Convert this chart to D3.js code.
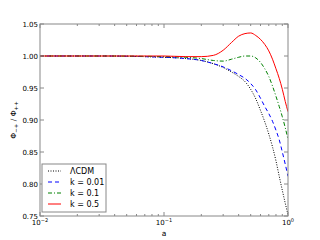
<!DOCTYPE html>
<html>
<head>
<meta charset="utf-8">
<script src="https://cdn.jsdelivr.net/npm/d3@7"></script>
<style>
  body { margin: 0; background: #fff; }
  text { font-family: "DejaVu Sans", sans-serif; }
</style>
</head>
<body>
<div id="chart"></div>
<script>
// scale factor a
var aValues = [0.01, 0.03, 0.1, 0.15, 0.2, 0.25, 0.3, 0.35, 0.4, 0.45, 0.5, 0.55, 0.6, 0.65, 0.7, 0.75, 0.8, 0.85, 0.9, 0.95, 1.0];
var lcdm = [1.0, 1.0, 0.998, 0.996, 0.993, 0.988, 0.982, 0.975, 0.968, 0.960, 0.948, 0.933, 0.915, 0.897, 0.878, 0.858, 0.836, 0.812, 0.790, 0.770, 0.752];
var k001 = [1.0, 1.0, 0.998, 0.996, 0.993, 0.988, 0.983, 0.977, 0.971, 0.965, 0.957, 0.947, 0.934, 0.921, 0.910, 0.898, 0.884, 0.869, 0.850, 0.831, 0.812];
var k01  = [1.0, 1.0, 0.999, 0.998, 0.996, 0.993, 0.992, 0.995, 0.998, 1.0, 1.0, 0.997, 0.990, 0.980, 0.968, 0.953, 0.937, 0.921, 0.905, 0.888, 0.870];
var k05  = [1.0, 1.0, 1.0, 0.999, 0.999, 1.001, 1.009, 1.021, 1.031, 1.035, 1.036, 1.032, 1.026, 1.018, 1.008, 0.995, 0.980, 0.965, 0.948, 0.929, 0.913];

var seriesNames = ["\u039bCDM", "k = 0.01", "k = 0.1", "k = 0.5"];
var seriesValues = [lcdm, k001, k01, k05];
var seriesColors = ["#000000", "#0000ff", "#008000", "#ff0000"];
var seriesDash = ["1,1.5", "4,3", "4,2,1,2", null];

var yTicks = [0.75, 0.80, 0.85, 0.90, 0.95, 1.00, 1.05];
var xTicks = [0.01, 0.1, 1];
var xTickExp = ["\u22122", "\u22121", "0"];

var W = 320, H = 240;
var margin = {top: 24, right: 32, bottom: 24, left: 40},
    width = W - margin.left - margin.right,
    height = H - margin.top - margin.bottom;

var svg = d3.select("#chart").append("svg")
    .attr("width", W)
    .attr("height", H);

var g = svg.append("g")
    .attr("transform", "translate(" + margin.left + "," + margin.top + ")");

var x = d3.scaleLog().domain([0.01, 1]).range([0, width]);
var y = d3.scaleLinear().domain([0.75, 1.05]).range([height, 0]);

// minor log ticks
var minor = [];
[0.01, 0.1].forEach(function(d) {
  for (var i = 2; i <= 9; i++) minor.push(d * i);
});

var axisColor = "#888";

// curves
var line = d3.line()
    .x(function(d) { return x(d[0]); })
    .y(function(d) { return y(d[1]); })
    .curve(d3.curveMonotoneX);

g.append("defs").append("clipPath").attr("id", "clip")
  .append("rect").attr("width", width).attr("height", height);

var curves = g.append("g").attr("clip-path", "url(#clip)");
seriesValues.forEach(function(vals, i) {
  curves.append("path")
    .datum(aValues.map(function(a, j) { return [a, vals[j]]; }))
    .attr("d", line)
    .attr("fill", "none")
    .attr("stroke", seriesColors[i])
    .attr("stroke-width", 1)
    .attr("stroke-dasharray", seriesDash[i]);
});

// frame
g.append("rect")
  .attr("width", width).attr("height", height)
  .attr("fill", "none").attr("stroke", axisColor).attr("stroke-width", 1);

// ticks (inward, all four sides)
var ticks = g.append("g").attr("stroke", axisColor).attr("stroke-width", 1);
xTicks.concat(minor).forEach(function(d) {
  var len = xTicks.indexOf(d) >= 0 ? 4 : 2;
  ticks.append("line").attr("x1", x(d)).attr("x2", x(d)).attr("y1", height).attr("y2", height - len);
  ticks.append("line").attr("x1", x(d)).attr("x2", x(d)).attr("y1", 0).attr("y2", len);
});
yTicks.forEach(function(d) {
  ticks.append("line").attr("x1", 0).attr("x2", 4).attr("y1", y(d)).attr("y2", y(d));
  ticks.append("line").attr("x1", width).attr("x2", width - 4).attr("y1", y(d)).attr("y2", y(d));
});

// tick labels
g.selectAll(".ylab").data(yTicks).enter().append("text")
  .attr("x", -2).attr("y", function(d) { return y(d) + 2.5; })
  .attr("text-anchor", "end").attr("font-size", 7).attr("fill", "#000")
  .text(function(d) { return d.toFixed(2); });

var xl = g.selectAll(".xlab").data(xTicks).enter().append("text")
  .attr("x", function(d) { return x(d); })
  .attr("y", height + 9)
  .attr("text-anchor", "middle").attr("font-size", 7).attr("fill", "#000");
xl.append("tspan").text("10");
xl.append("tspan").attr("dy", -3).attr("font-size", 5)
  .text(function(d, i) { return xTickExp[i]; });

// axis labels
g.append("text")
  .attr("x", width / 2).attr("y", height + 20)
  .attr("text-anchor", "middle").attr("font-size", 7.5).text("a");

var yl = svg.append("text")
  .attr("transform", "translate(16," + (margin.top + height / 2) + ") rotate(-90)")
  .attr("text-anchor", "middle").attr("font-size", 7.5);
yl.append("tspan").text("\u03a6");
yl.append("tspan").attr("dy", 2).attr("font-size", 5.5).text("\u2212+");
yl.append("tspan").attr("dy", -2).text(" / \u03a6");
yl.append("tspan").attr("dy", 2).attr("font-size", 5.5).text("++");

// legend
var leg = g.append("g").attr("transform", "translate(2," + (height - 52) + ")");
leg.append("rect")
  .attr("width", 64).attr("height", 48)
  .attr("fill", "#fff").attr("stroke", axisColor).attr("stroke-width", 1);
seriesNames.forEach(function(name, i) {
  var yy = 7 + i * 11;
  leg.append("line")
    .attr("x1", 6).attr("x2", 19).attr("y1", yy).attr("y2", yy)
    .attr("stroke", seriesColors[i]).attr("stroke-width", 1)
    .attr("stroke-dasharray", seriesDash[i]);
  leg.append("text")
    .attr("x", 28).attr("y", yy + 3)
    .attr("font-size", 8).text(name);
});
</script>
</body>
</html>
